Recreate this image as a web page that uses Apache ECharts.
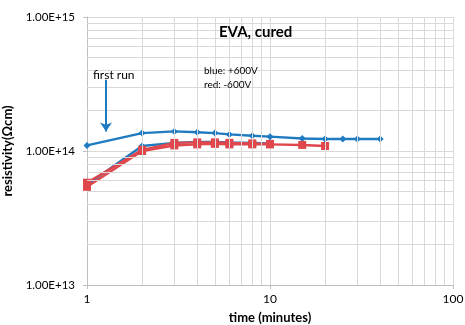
<!DOCTYPE html>
<html><head><meta charset="utf-8">
<script src="https://cdn.jsdelivr.net/npm/echarts@6/dist/echarts.min.js"></script>
<style>html,body{margin:0;padding:0;background:#fff}#c{width:465px;height:325px}</style>
</head><body><div id="c"></div>
<script>
// time (minutes)
const blueRun1X = [1, 2, 3, 4, 5, 6, 8, 10, 15, 20, 25, 30, 40];
const blueRun1Y = [1.10e14, 1.36e14, 1.40e14, 1.38e14, 1.36e14, 1.33e14, 1.30e14, 1.28e14, 1.24e14, 1.23e14, 1.23e14, 1.23e14, 1.23e14];
const blueRun2X = [1, 2, 3, 4, 5, 6, 8, 10];
const blueRun2Y = [5.6e13, 1.09e14, 1.15e14, 1.17e14, 1.17e14, 1.16e14, 1.15e14, 1.14e14];
const redRun1X = [1, 2, 3, 4, 5, 6, 8, 10, 15, 20];
const redRun1Y = [5.4e13, 1.00e14, 1.10e14, 1.12e14, 1.13e14, 1.12e14, 1.12e14, 1.12e14, 1.11e14, 1.09e14];
const redRun2X = [1, 2, 3, 4, 5, 6, 8, 10];
const redRun2Y = [5.8e13, 1.02e14, 1.15e14, 1.16e14, 1.16e14, 1.15e14, 1.14e14, 1.13e14];
// minor gridline positions
const minorX = [2, 3, 4, 5, 6, 7, 8, 9, 20, 30, 40, 50, 60, 70, 80, 90];
const minorY = [2e13, 3e13, 4e13, 5e13, 6e13, 7e13, 8e13, 9e13, 2e14, 3e14, 4e14, 5e14, 6e14, 7e14, 8e14, 9e14];
// "first run" arrow (data space)
const arrowX = 1.27;
const arrowFromY = 3.4e14;
const arrowToY = 1.40e14;

const BLUE = '#1F7BC1', RED = '#E0474C', GRID = '#d9d9d9';
const FONT = 'Lato, "Open Sans", sans-serif';
const zip = (xs, ys) => xs.map((x, i) => [x, ys[i]]);

const chart = echarts.init(document.getElementById('c'), null, {renderer: 'canvas'});
const gridLines = minorX.map(v => ({xAxis: v})).concat(minorY.map(v => ({yAxis: v})));

chart.setOption({
  animation: false,
  backgroundColor: '#fff',
  textStyle: {fontFamily: FONT},
  title: {text: 'EVA, cured', left: 214, top: 20,
    textStyle: {fontFamily: FONT, fontSize: 15, fontWeight: 'bold', color: '#000'}},
  grid: {left: 87, right: 12, top: 17, bottom: 40, containLabel: false, outerBoundsMode: 'none'},
  xAxis: {type: 'log', logBase: 10, min: 1, max: 100,
    name: 'time (minutes)', nameLocation: 'middle', nameGap: 26,
    nameTextStyle: {fontFamily: FONT, fontSize: 13, fontWeight: 'bold', color: '#000'},
    axisLine: {lineStyle: {color: '#bfbfbf'}},
    axisTick: {show: true, length: 4, lineStyle: {color: '#bfbfbf'}},
    axisLabel: {fontFamily: FONT, fontSize: 12, color: '#000', margin: 8},
    splitLine: {show: true, lineStyle: {color: GRID}}},
  yAxis: {type: 'log', logBase: 10, min: 1e13, max: 1e15,
    name: 'resistivity(Ωcm)', nameLocation: 'middle', nameGap: 64, nameRotate: 90,
    nameTextStyle: {fontFamily: FONT, fontSize: 13, fontWeight: 'bold', color: '#000'},
    axisLine: {show: true, lineStyle: {color: '#bfbfbf'}},
    axisTick: {show: true, length: 4, inside: false, lineStyle: {color: '#bfbfbf'}},
    axisLabel: {fontFamily: FONT, fontSize: 11.5, color: '#000', margin: 12,
      formatter: v => Number(v).toExponential(2).toUpperCase()},
    splitLine: {show: true, lineStyle: {color: GRID}}},
  graphic: [
    {type: 'text', left: 93, top: 69, z: 100, style: {text: 'first run', font: '12px ' + FONT, fill: '#000'}},
    {type: 'text', left: 204, top: 66, z: 100, style: {text: 'blue: +600V', font: '10px ' + FONT, fill: '#000'}},
    {type: 'text', left: 204, top: 80, z: 100, style: {text: 'red: -600V', font: '10px ' + FONT, fill: '#000'}}
  ],
  series: [
    {type: 'line', name: 'grid', data: [], silent: true, z: 1,
      markLine: {silent: true, symbol: 'none', label: {show: false},
        lineStyle: {color: GRID, type: 'solid', width: 1}, data: gridLines}},
    {type: 'line', name: 'blue run 1', data: zip(blueRun1X, blueRun1Y), z: 3,
      symbol: 'diamond', symbolSize: 7, lineStyle: {color: BLUE, width: 2.4},
      itemStyle: {color: BLUE},
      markLine: {silent: true, symbol: ['none', 'arrow'], symbolSize: [9, 9], label: {show: false},
        lineStyle: {color: BLUE, width: 2, type: 'solid'},
        data: [[{coord: [arrowX, arrowFromY]}, {coord: [arrowX, arrowToY]}]]}},
    {type: 'line', name: 'blue run 2', data: zip(blueRun2X, blueRun2Y), z: 3,
      symbol: 'diamond', symbolSize: 7, lineStyle: {color: BLUE, width: 2.4},
      itemStyle: {color: BLUE}},
    {type: 'line', name: 'red run 1', data: zip(redRun1X, redRun1Y), z: 4,
      symbol: 'rect', symbolSize: 8, lineStyle: {color: RED, width: 2.4},
      itemStyle: {color: RED}},
    {type: 'line', name: 'red run 2', data: zip(redRun2X, redRun2Y), z: 4,
      symbol: 'rect', symbolSize: 8, lineStyle: {color: RED, width: 2.4},
      itemStyle: {color: RED}}
  ]
});
</script></body></html>
